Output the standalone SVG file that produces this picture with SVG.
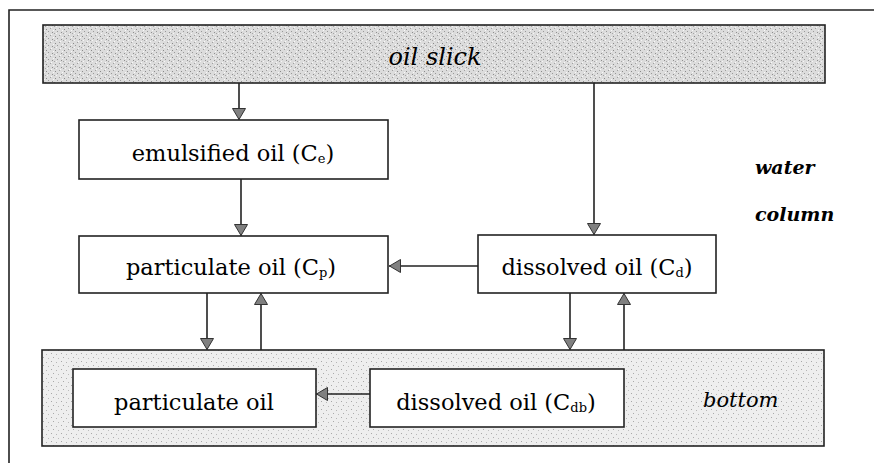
<svg xmlns="http://www.w3.org/2000/svg" width="874" height="464" viewBox="0 0 874 464">
<style>
.box{fill:#fff;stroke:#222;stroke-width:1.6}
.lbl{font-family:"DejaVu Serif","Liberation Serif",serif;font-size:22.5px;fill:#000;text-anchor:middle}
.it{font-family:"DejaVu Serif","Liberation Serif",serif;font-style:italic;font-size:20px;fill:#000}
.sub{font-size:13px}
.con{stroke:#222;stroke-width:1.6;fill:none;marker-end:url(#ah)}
</style>
<defs>
<pattern id="speck1" width="9" height="7" patternUnits="userSpaceOnUse">
<rect width="9" height="7" fill="#dcdcdc"/>
<rect x="1" y="1" width="1" height="1" fill="#8a8a8a"/>
<rect x="5" y="0" width="1" height="1" fill="#a0a0a0"/>
<rect x="3" y="3" width="1" height="1" fill="#999"/>
<rect x="7" y="4" width="1" height="1" fill="#8f8f8f"/>
<rect x="0" y="5" width="1" height="1" fill="#a5a5a5"/>
<rect x="8" y="2" width="1" height="1" fill="#f8f8f8"/>
<rect x="2" y="5" width="1" height="1" fill="#f5f5f5"/>
<rect x="6" y="6" width="1" height="1" fill="#f8f8f8"/>
</pattern>
<pattern id="speck2" width="10" height="8" patternUnits="userSpaceOnUse">
<rect width="10" height="8" fill="#eeeeee"/>
<rect x="1" y="1" width="1" height="1" fill="#a8a8a8"/>
<rect x="6" y="2" width="1" height="1" fill="#b5b5b5"/>
<rect x="3" y="5" width="1" height="1" fill="#aaa"/>
<rect x="8" y="6" width="1" height="1" fill="#bbb"/>
</pattern>
<marker id="ah" viewBox="0 0 12 14" markerWidth="12" markerHeight="14" refX="12" refY="7" orient="auto" markerUnits="userSpaceOnUse">
<path d="M0.5,0.5 L11.5,7 L0.5,13.5 Z" fill="#808080" stroke="#333" stroke-width="1"/>
</marker>
</defs>
<path d="M9,463 V10 H874" fill="none" stroke="#222" stroke-width="1.6"/>
<g id="oil-slick">
<rect x="43" y="25" width="782" height="58" fill="url(#speck1)" stroke="#222" stroke-width="1.6"/>
<text class="it" x="435" y="65" text-anchor="middle" style="font-size:24px">oil slick</text>
</g>
<g id="bottom-layer">
<rect x="42" y="350" width="782" height="96" fill="url(#speck2)" stroke="#222" stroke-width="1.6"/>
<text class="it" x="703" y="407" style="font-size:21px">bottom</text>
</g>
<g id="water-column">
<text class="it" x="755" y="174" style="font-size:19px;font-weight:bold">water</text>
<text class="it" x="755" y="221" style="font-size:19px;font-weight:bold">column</text>
</g>
<g id="emulsified">
<rect class="box" x="79" y="120" width="309" height="59"/>
<text class="lbl" x="233" y="161">emulsified oil (C<tspan class="sub" dy="2">e</tspan><tspan dy="-2">)</tspan></text>
</g>
<g id="particulate">
<rect class="box" x="79" y="236" width="309" height="57"/>
<text class="lbl" x="231" y="275">particulate oil (C<tspan class="sub" dy="2">p</tspan><tspan dy="-2">)</tspan></text>
</g>
<g id="dissolved">
<rect class="box" x="478" y="235" width="238" height="58"/>
<text class="lbl" x="597" y="275">dissolved oil (C<tspan class="sub" dy="2">d</tspan><tspan dy="-2">)</tspan></text>
</g>
<g id="particulate-bottom">
<rect class="box" x="73" y="369" width="243" height="58"/>
<text class="lbl" x="194" y="410">particulate oil</text>
</g>
<g id="dissolved-bottom">
<rect class="box" x="370" y="369" width="254" height="58"/>
<text class="lbl" x="496" y="410">dissolved oil (C<tspan class="sub" dy="2">db</tspan><tspan dy="-2">)</tspan></text>
</g>
<g id="connectors">
<line class="con" x1="239" y1="83" x2="239" y2="120"/>
<line class="con" x1="241" y1="179" x2="241" y2="236"/>
<line class="con" x1="594" y1="83" x2="594" y2="235"/>
<line class="con" x1="478" y1="266" x2="389" y2="266"/>
<line class="con" x1="207" y1="293" x2="207" y2="350"/>
<line class="con" x1="261" y1="350" x2="261" y2="293"/>
<line class="con" x1="570" y1="293" x2="570" y2="350"/>
<line class="con" x1="624" y1="350" x2="624" y2="293"/>
<line class="con" x1="370" y1="394" x2="316" y2="394"/>
</g>
</svg>
